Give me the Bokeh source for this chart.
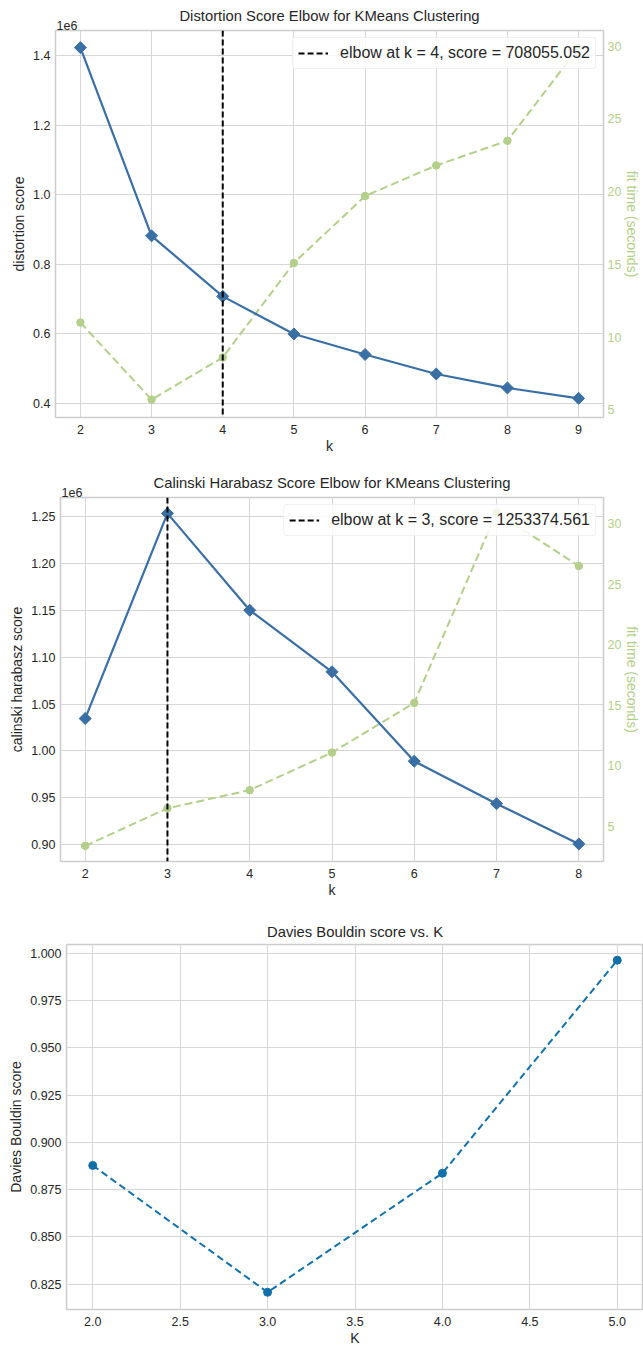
import numpy as np
from bokeh.plotting import figure
from bokeh.models import (Range1d, LinearAxis, FixedTicker, CustomJSTickFormatter,
                          NumeralTickFormatter, Span, Title)
from bokeh.layouts import column
from bokeh.embed import file_html
from bokeh.resources import INLINE

FONT = "Liberation Sans"
TXT = "#262626"
GRID = "#d6d6d6"
BLUE = "#3a6fa3"
GREEN = "#b3cf8a"
BLUE3 = "#1170aa"

# ---- data: distortion elbow ----
k1 = [2, 3, 4, 5, 6, 7, 8, 9]
distortion = [1423000, 882000, 708055.052, 600000, 541000, 485000, 445000, 415000]
fit_time1 = [11.0, 5.7, 8.6, 15.1, 19.7, 21.8, 23.5, 29.9]
elbow_k1 = 4
elbow_score1 = 708055.052
dist_ticks = [400000, 600000, 800000, 1000000, 1200000, 1400000]
time_ticks1 = [5, 10, 15, 20, 25, 30]

# ---- data: calinski harabasz elbow ----
k2 = [2, 3, 4, 5, 6, 7, 8]
calinski = [1034500, 1253374.561, 1150000, 1084400, 989000, 943700, 900700]
fit_time2 = [3.4, 6.5, 8.0, 11.1, 15.2, 30.9, 26.5]
elbow_k2 = 3
elbow_score2 = 1253374.561
ch_ticks = [900000, 950000, 1000000, 1050000, 1100000, 1150000, 1200000, 1250000]
time_ticks2 = [5, 10, 15, 20, 25, 30]

# ---- data: davies bouldin ----
k3 = [2, 3, 4, 5]
davies = [0.8878, 0.8208, 0.8837, 0.9962]
db_ticks = [0.825, 0.850, 0.875, 0.900, 0.925, 0.950, 0.975, 1.000]
k3_ticks = [2.0, 2.5, 3.0, 3.5, 4.0, 4.5, 5.0]


def style(p, xlabel, ylabel):
    p.title.text_font = FONT
    p.title.text_font_size = "14.8px"
    p.title.text_font_style = "normal"
    p.title.text_color = TXT
    p.title.align = "center"
    p.title.standoff = 9
    p.xaxis.axis_label = xlabel
    p.yaxis[0].axis_label = ylabel
    for ax in p.axis:
        ax.axis_line_color = None
        ax.major_tick_line_color = None
        ax.minor_tick_line_color = None
        ax.major_tick_out = 0
        ax.major_tick_in = 0
        ax.minor_tick_out = 0
        ax.minor_tick_in = 0
        ax.major_label_text_font = FONT
        ax.major_label_text_font_size = "12.5px"
        ax.major_label_text_color = TXT
        ax.axis_label_text_font = FONT
        ax.axis_label_text_font_size = "14px"
        ax.axis_label_text_font_style = "normal"
        ax.axis_label_text_color = TXT
        ax.major_label_standoff = 5
        ax.axis_label_standoff = 3
    p.xaxis.major_label_standoff = 7
    p.xaxis.axis_label_standoff = 1
    p.xgrid.grid_line_color = GRID
    p.ygrid.grid_line_color = GRID
    p.outline_line_color = "#cccccc"
    p.outline_line_width = 1.5
    p.background_fill_color = "white"
    p.border_fill_color = "white"


def elbow_fig(k, scores, times, elbow_k, elbow_score, title, ylabel,
              xr, yr, tr, yticks, tticks, decimals, height, borders):
    p = figure(width=643, height=height, x_range=Range1d(*xr), y_range=Range1d(*yr),
               output_backend="svg", toolbar_location=None, title=title,
               frame_align=False,
               min_border_left=borders[0], min_border_right=borders[1],
               min_border_top=borders[2], min_border_bottom=borders[3])
    p.extra_y_ranges = {"time": Range1d(*tr)}
    rax = LinearAxis(y_range_name="time", axis_label="fit time (seconds)")
    p.add_layout(rax, "right")
    style(p, "k", ylabel)
    p.title.standoff = -12
    rax.major_label_text_color = GREEN
    rax.axis_label_text_color = GREEN
    rax.ticker = FixedTicker(ticks=tticks)
    rax.major_label_standoff = 4
    rax.axis_label_standoff = 0

    # scientific offset text of the left axis
    p.add_layout(Title(text="1e6", align="left", text_font=FONT,
                       text_font_size="12.5px", text_font_style="normal",
                       text_color=TXT, standoff=2, offset=1), "above")

    p.xaxis.ticker = FixedTicker(ticks=k)
    p.yaxis[0].ticker = FixedTicker(ticks=yticks)
    p.yaxis[0].formatter = CustomJSTickFormatter(
        code="return (tick/1e6).toFixed(%d);" % decimals)

    # fit time (secondary axis)
    p.line(k, times, y_range_name="time", line_color=GREEN, line_width=2,
           line_dash="8 4")
    p.scatter(k, times, y_range_name="time", marker="circle", size=7.5,
              fill_color=GREEN, line_color=GREEN)

    # score
    p.line(k, scores, line_color=BLUE, line_width=2.2)
    p.scatter(k, scores, marker="square", angle=np.pi / 4, size=8.5,
              fill_color=BLUE, line_color=BLUE)

    # elbow
    p.add_layout(Span(location=elbow_k, dimension="height", line_color="black",
                      line_width=2, line_dash="6 3"))
    p.line([elbow_k], [np.nan], line_color="black", line_width=2, line_dash="6 3",
           legend_label="elbow at k = %d, score = %.3f" % (elbow_k, elbow_score))
    lg = p.legend[0]
    lg.location = "top_right"
    lg.margin = 7
    lg.padding = 5
    lg.glyph_width = 30
    lg.label_standoff = 12
    lg.label_text_font = FONT
    lg.label_text_font_size = "16px"
    lg.label_text_color = TXT
    lg.background_fill_color = "white"
    lg.background_fill_alpha = 0.8
    lg.border_line_color = "#e3e3e3"
    lg.border_radius = 3
    return p


p1 = elbow_fig(k1, distortion, fit_time1, elbow_k1, elbow_score1,
               "Distortion Score Elbow for KMeans Clustering", "distortion score",
               (1.65, 9.35), (360000, 1472000), (4.47, 31.08),
               dist_ticks, time_ticks1, 1, 457, (55, 38, 30, 40))

p2 = elbow_fig(k2, calinski, fit_time2, elbow_k2, elbow_score2,
               "Calinski Harabasz Score Elbow for KMeans Clustering",
               "calinski harabasz score",
               (1.7, 8.3), (882000, 1270300), (2.11, 32.15),
               ch_ticks, time_ticks2, 2, 443, (60, 37, 40, 38))

# ---- Davies Bouldin ----
p3 = figure(width=643, height=448, x_range=Range1d(1.85, 5.15),
            y_range=Range1d(0.8117, 1.0045), output_backend="svg",
            toolbar_location=None, title="Davies Bouldin score vs. K",
            frame_align=False,
            min_border_left=66, min_border_right=0, min_border_top=44,
            min_border_bottom=36)
style(p3, "K", "Davies Bouldin score")
p3.xaxis.ticker = FixedTicker(ticks=k3_ticks)
p3.xaxis.formatter = NumeralTickFormatter(format="0.0")
p3.yaxis.ticker = FixedTicker(ticks=db_ticks)
p3.yaxis.formatter = NumeralTickFormatter(format="0.000")
p3.line(k3, davies, line_color=BLUE3, line_width=2, line_dash="7 4")
p3.scatter(k3, davies, marker="circle", size=8, fill_color=BLUE3, line_color=BLUE3)

layout = column(p1, p2, p3, spacing=0)
open("out.html", "w").write(file_html(layout, INLINE))
